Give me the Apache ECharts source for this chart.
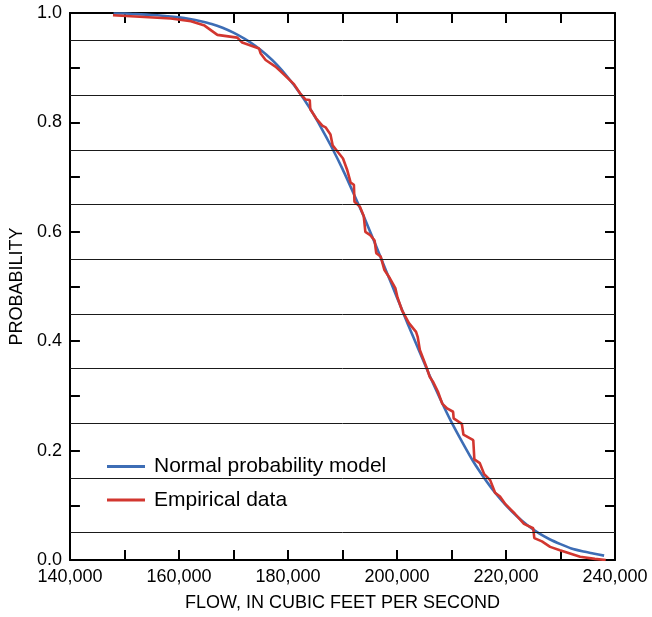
<!DOCTYPE html>
<html>
<head>
<meta charset="utf-8">
<script src="https://cdn.jsdelivr.net/npm/echarts@6/dist/echarts.min.js"></script>
<style>
html,body{margin:0;padding:0;background:#fff;}
#chart{width:652px;height:617px;}
</style>
</head>
<body>
<div id="chart"></div>
<script>
// Normal probability model
const modelFlow = [148000,150000,152000,154000,156000,158000,160000,162000,164000,166000,168000,170000,172000,174000,176000,178000,180000,182000,184000,186000,188000,190000,192000,194000,196000,198000,200000,202000,204000,206000,208000,210000,212000,214000,216000,218000,220000,222000,224000,226000,228000,230000,232000,234000,236000,238000];
const modelProb = [0.999,0.999,0.998,0.997,0.996,0.994,0.992,0.989,0.985,0.980,0.973,0.964,0.953,0.940,0.924,0.905,0.882,0.856,0.826,0.792,0.755,0.715,0.671,0.626,0.578,0.529,0.480,0.431,0.384,0.337,0.293,0.252,0.215,0.180,0.150,0.123,0.100,0.080,0.063,0.049,0.038,0.029,0.021,0.016,0.012,0.008];

// Empirical data
const empFlow = [147900,158500,162200,164700,167050,170700,171600,174700,175000,175900,177700,178700,181100,182300,183200,184000,184100,185200,186300,186900,187800,188200,189300,190100,190900,191500,192100,192200,193200,193900,194200,195100,195900,196200,197000,197700,198700,199700,200100,200900,202200,203500,203800,204200,205400,206000,206600,207500,208300,209200,210300,210400,211900,212200,214000,214200,215200,216000,217100,218000,218900,219900,220800,221600,223300,225000,225200,226600,228100,229900,233600,236300,238300];
const empProb = [0.996,0.990,0.985,0.977,0.960,0.955,0.946,0.935,0.926,0.914,0.902,0.893,0.870,0.852,0.842,0.841,0.824,0.807,0.794,0.791,0.778,0.758,0.744,0.734,0.712,0.690,0.686,0.655,0.646,0.629,0.600,0.594,0.584,0.561,0.555,0.530,0.515,0.497,0.480,0.457,0.433,0.417,0.408,0.384,0.353,0.335,0.326,0.308,0.286,0.277,0.271,0.259,0.249,0.229,0.219,0.184,0.177,0.157,0.146,0.123,0.116,0.102,0.093,0.085,0.066,0.058,0.040,0.034,0.024,0.018,0.006,0.002,0.000];

// Horizontal reference lines
const gridProbs = [0.05,0.15,0.25,0.35,0.45,0.55,0.65,0.75,0.85,0.95];

const seriesNames = ['Normal probability model', 'Empirical data'];
const FONT = "'Liberation Sans', Arial, Helvetica, sans-serif";

const chart = echarts.init(document.getElementById('chart'), null, {renderer: 'canvas'});

const frameX = {
  type: 'value', min: 140000, max: 240000, interval: 10000,
  axisLine: {show: true, onZero: false, lineStyle: {color: '#000', width: 2}},
  axisTick: {show: true, inside: true, length: 10, lineStyle: {color: '#000', width: 2}},
  splitLine: {show: false}
};
const frameY = {
  type: 'value', min: 0, max: 1, interval: 0.1,
  axisLine: {show: true, onZero: false, lineStyle: {color: '#000', width: 2}},
  axisTick: {show: true, inside: true, length: 10, lineStyle: {color: '#000', width: 2}},
  splitLine: {show: false}
};

chart.setOption({
  animation: false,
  backgroundColor: '#fff',
  textStyle: {fontFamily: FONT},
  grid: {left: 69, right: 37, top: 13, bottom: 57},
  xAxis: [
    Object.assign({}, frameX, {
      position: 'bottom',
      name: 'FLOW, IN CUBIC FEET PER SECOND',
      nameLocation: 'middle', nameGap: 34,
      nameTextStyle: {color: '#000', fontSize: 18, fontFamily: FONT},
      axisLabel: {
        show: true, margin: 8, color: '#000', fontSize: 18, fontFamily: FONT,
        formatter: function (v) {
          const r = Math.round(v);
          return r % 20000 === 0 ? r.toLocaleString('en-US') : '';
        }
      }
    }),
    Object.assign({}, frameX, {position: 'top', axisLabel: {show: false}})
  ],
  yAxis: [
    Object.assign({}, frameY, {
      position: 'left',
      name: 'PROBABILITY',
      nameLocation: 'middle', nameGap: 42, nameRotate: 90,
      nameTextStyle: {color: '#000', fontSize: 18, fontFamily: FONT},
      axisLabel: {
        show: true, margin: 8, color: '#000', fontSize: 18, fontFamily: FONT,
        formatter: function (v) {
          return Math.round(v * 10) % 2 === 0 ? v.toFixed(1) : '';
        }
      }
    }),
    Object.assign({}, frameY, {position: 'right', axisLabel: {show: false}})
  ],
  legend: {
    data: seriesNames,
    orient: 'vertical',
    left: 97, top: 448,
    padding: [8, 8, 8, 10],
    backgroundColor: '#fff',
    icon: 'rect',
    itemWidth: 38, itemHeight: 3,
    itemGap: 12.6,
    textStyle: {color: '#000', fontSize: 21, lineHeight: 20, fontFamily: FONT, padding: [0, 0, 0, 4]},
    selectedMode: false
  },
  series: [
    {
      name: 'gridlines', type: 'line', data: [], z: 1, silent: true,
      markLine: {
        silent: true, symbol: 'none', animation: false,
        label: {show: false},
        lineStyle: {color: '#1a1a1a', width: 1, type: 'solid'},
        data: gridProbs.map(v => ({yAxis: v}))
      }
    },
    {
      name: seriesNames[0], type: 'line', z: 3,
      data: modelFlow.map((f, i) => [f, modelProb[i]]),
      symbol: 'none', smooth: 0.2,
      lineStyle: {color: '#3d6db5', width: 2.6},
      itemStyle: {color: '#3d6db5'}
    },
    {
      name: seriesNames[1], type: 'line', z: 4,
      data: empFlow.map((f, i) => [f, empProb[i]]),
      symbol: 'none',
      lineStyle: {color: '#d2362f', width: 2.6},
      itemStyle: {color: '#d2362f'}
    }
  ]
});
</script>
</body>
</html>
